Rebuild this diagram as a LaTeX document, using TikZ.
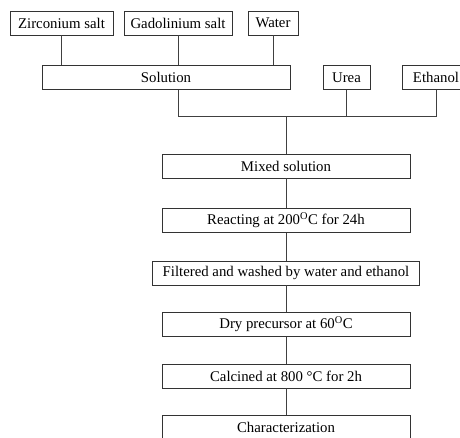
\documentclass[tikz,border=0pt]{standalone}
\usepackage{fontspec}
\setmainfont{Liberation Serif}
\tikzset{
    box/.style={draw=black!80, line width=0.9pt, minimum height=24pt, inner sep=0pt,
        font=\fontsize{14.8}{16}\selectfont},
    link/.style={draw=black!75, line width=0.9pt}
}
\begin{document}
\begin{tikzpicture}[x=1pt, y=-1pt]
    \useasboundingbox (0,0) rectangle (460,437);
    \clip (0,0) rectangle (460,437);
    % raw materials
    \node[box, minimum width=103pt] (zr) at (61.5,23) {Zirconium salt};
    \node[box, minimum width=108pt] (gd) at (178,23) {Gadolinium salt};
    \node[box, minimum width=50pt] (wt) at (273,23) {Water};
    \node[box, minimum width=248pt] (sol) at (166,77.5) {Solution};
    \node[box, minimum width=47pt] (ur) at (346.5,77.5) {Urea};
    \node[box, minimum width=68pt] (et) at (436,77.5) {Ethanol};
    % process steps
    \node[box, minimum width=248pt] (mix) at (286,166) {Mixed solution};
    \node[box, minimum width=248pt] (rct) at (286,220.5) {Reacting at 200\textsuperscript{O}C for 24h};
    \node[box, minimum width=267pt] (flt) at (286,273) {Filtered and washed by water and ethanol};
    \node[box, minimum width=248pt] (dry) at (286,324.5) {Dry precursor at 60\textsuperscript{O}C};
    \node[box, minimum width=248pt] (cal) at (286,376) {Calcined at 800 °C for 2h};
    \node[box, minimum width=248pt] (chr) at (286,427) {Characterization};
    \coordinate (jn) at (286,116);
    % connectors
    \foreach \s in {zr, gd, wt}
        \draw[link] (\s.south) -- (\s.south |- sol.north);
    \draw[link] (gd.south |- sol.south) |- (et.south |- jn) -- (et.south);
    \draw[link] (ur.south) -- (ur.south |- jn);
    \draw[link] (jn) -- (mix.north);
    \draw[link] (mix) -- (rct) -- (flt) -- (dry) -- (cal) -- (chr);
\end{tikzpicture}
\end{document}
